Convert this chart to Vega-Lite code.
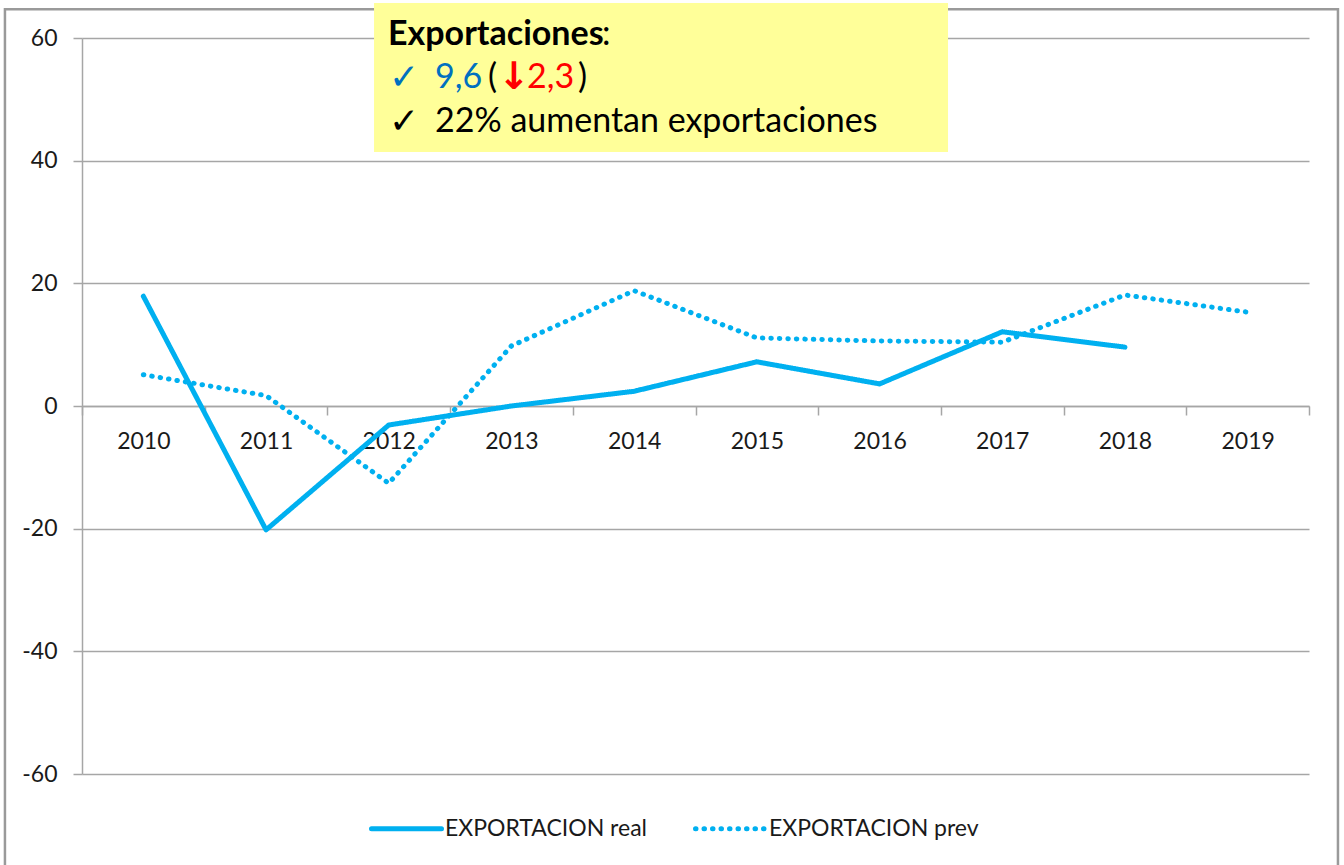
{
  "$schema": "https://vega.github.io/schema/vega-lite/v6.json",
  "width": 1227,
  "height": 736,
  "padding": {"left": 82, "top": 38, "right": 35, "bottom": 91},
  "autosize": {"type": "none"},
  "background": "white",
  "config": {"view": {"stroke": null}, "font": "Lato"},
  "resolve": {"scale": {"x": "independent"}},
  "layer": [
    {
      "data": {"values": [{}]},
      "mark": {"type": "rect", "fill": null, "stroke": "#9A9A9A", "strokeWidth": 2.5},
      "encoding": {
        "x": {"datum": -0.0628, "type": "quantitative", "scale": {"domain": [0, 1], "nice": false, "zero": false}, "axis": null},
        "x2": {"datum": 1.0236},
        "y": {"datum": 64.7, "type": "quantitative"},
        "y2": {"datum": -80}
      }
    },
    {
      "data": {
        "values": [
          {"year": "2010", "series": "EXPORTACION real", "value": 17.9},
          {"year": "2011", "series": "EXPORTACION real", "value": -20.2},
          {"year": "2012", "series": "EXPORTACION real", "value": -3.1},
          {"year": "2013", "series": "EXPORTACION real", "value": 0.0},
          {"year": "2014", "series": "EXPORTACION real", "value": 2.4},
          {"year": "2015", "series": "EXPORTACION real", "value": 7.2},
          {"year": "2016", "series": "EXPORTACION real", "value": 3.6},
          {"year": "2017", "series": "EXPORTACION real", "value": 12.1},
          {"year": "2018", "series": "EXPORTACION real", "value": 9.6},
          {"year": "2010", "series": "EXPORTACION prev", "value": 5.1},
          {"year": "2011", "series": "EXPORTACION prev", "value": 1.7},
          {"year": "2012", "series": "EXPORTACION prev", "value": -12.6},
          {"year": "2013", "series": "EXPORTACION prev", "value": 9.8},
          {"year": "2014", "series": "EXPORTACION prev", "value": 18.8},
          {"year": "2015", "series": "EXPORTACION prev", "value": 11.1},
          {"year": "2016", "series": "EXPORTACION prev", "value": 10.6},
          {"year": "2017", "series": "EXPORTACION prev", "value": 10.4},
          {"year": "2018", "series": "EXPORTACION prev", "value": 18.1},
          {"year": "2019", "series": "EXPORTACION prev", "value": 15.3}
        ]
      },
      "mark": {"type": "line", "strokeWidth": 5, "strokeCap": "round", "strokeJoin": "round"},
      "encoding": {
        "x": {
          "field": "year", "type": "ordinal",
          "scale": {"type": "band", "paddingInner": 0, "paddingOuter": 0},
          "axis": {
            "title": null, "orient": "bottom", "offset": -368, "labelAngle": 0,
            "tickBand": "extent", "tickSize": 9, "tickColor": "#A6A6A6", "tickWidth": 1.5,
            "domainColor": "#A6A6A6", "domainWidth": 1.5,
            "labelFont": "Lato", "labelFontSize": 23, "labelColor": "#1A1A1A",
            "labelBaseline": "middle", "labelPadding": 26, "grid": false
          }
        },
        "y": {
          "field": "value", "type": "quantitative",
          "scale": {"domain": [-60, 60], "nice": false, "zero": false},
          "axis": {
            "title": null, "values": [-60, -40, -20, 0, 20, 40, 60],
            "labelExpr": "'' + datum.value",
            "grid": true, "gridColor": "#A6A6A6", "gridWidth": 1.5,
            "domainColor": "#A6A6A6", "domainWidth": 1.5,
            "tickColor": "#A6A6A6", "tickWidth": 1.5, "tickSize": 9,
            "labelFont": "Lato", "labelFontSize": 23, "labelColor": "#1A1A1A", "labelPadding": 16
          }
        },
        "color": {
          "field": "series", "type": "nominal",
          "scale": {"domain": ["EXPORTACION real", "EXPORTACION prev"], "range": ["#00B0F0", "#00B0F0"]},
          "legend": {
            "title": null, "orient": "none", "legendX": 287, "legendY": 753, "direction": "horizontal",
            "symbolType": "stroke", "symbolSize": 4900, "symbolStrokeWidth": 5,
            "labelFont": "Lato", "labelFontSize": 23, "labelColor": "#1A1A1A", "labelOffset": 1,
            "labelLimit": 400, "columnPadding": 38,
            "encode": {"symbols": {"update": {"strokeCap": {"value": "round"}}}}
          }
        },
        "strokeDash": {
          "field": "series", "type": "nominal",
          "scale": {"domain": ["EXPORTACION real", "EXPORTACION prev"], "range": [[1, 0], [0.5, 8]]}
        }
      }
    },
    {
      "data": {"values": [{}]},
      "mark": {"type": "rect", "fill": "#FFFF99"},
      "encoding": {
        "x": {"datum": 0.238, "type": "quantitative", "scale": {"domain": [0, 1], "nice": false, "zero": false}, "axis": null},
        "x2": {"datum": 0.7058},
        "y": {"datum": 65.7, "type": "quantitative"},
        "y2": {"datum": 41.4}
      }
    },
    {
      "data": {"values": [{}]},
      "mark": {"type": "text", "text": "Exportaciones", "font": "Lato", "fontWeight": "bold", "fontSize": 34, "align": "left", "baseline": "middle", "color": "black"},
      "encoding": {
        "x": {"datum": 0.2494, "type": "quantitative", "scale": {"domain": [0, 1], "nice": false, "zero": false}, "axis": null},
        "y": {"datum": 60.5, "type": "quantitative"}
      }
    },
    {
      "data": {"values": [{}]},
      "mark": {"type": "text", "text": ":", "font": "Lato", "fontSize": 34, "align": "left", "baseline": "middle", "color": "black"},
      "encoding": {
        "x": {"datum": 0.4238, "type": "quantitative", "scale": {"domain": [0, 1], "nice": false, "zero": false}, "axis": null},
        "y": {"datum": 60.5, "type": "quantitative"}
      }
    },
    {
      "data": {"values": [{}]},
      "mark": {"type": "text", "text": "✓", "font": "DejaVu Sans", "fontSize": 36, "align": "left", "baseline": "middle", "color": "#0070C0"},
      "encoding": {
        "x": {"datum": 0.2502, "type": "quantitative", "scale": {"domain": [0, 1], "nice": false, "zero": false}, "axis": null},
        "y": {"datum": 53.5, "type": "quantitative"}
      }
    },
    {
      "data": {"values": [{}]},
      "mark": {"type": "text", "text": "9,6", "font": "Lato", "fontSize": 34, "align": "left", "baseline": "middle", "color": "#0070C0"},
      "encoding": {
        "x": {"datum": 0.2877, "type": "quantitative", "scale": {"domain": [0, 1], "nice": false, "zero": false}, "axis": null},
        "y": {"datum": 53.5, "type": "quantitative"}
      }
    },
    {
      "data": {"values": [{}]},
      "mark": {"type": "text", "text": "(", "font": "Lato", "fontSize": 34, "align": "left", "baseline": "middle", "color": "black"},
      "encoding": {
        "x": {"datum": 0.3309, "type": "quantitative", "scale": {"domain": [0, 1], "nice": false, "zero": false}, "axis": null},
        "y": {"datum": 53.5, "type": "quantitative"}
      }
    },
    {
      "data": {"values": [{}]},
      "mark": {"type": "text", "text": "↓", "font": "DejaVu Sans", "fontWeight": "bold", "fontSize": 38, "align": "left", "baseline": "middle", "color": "#FF0000"},
      "encoding": {
        "x": {"datum": 0.3390, "type": "quantitative", "scale": {"domain": [0, 1], "nice": false, "zero": false}, "axis": null},
        "y": {"datum": 53.5, "type": "quantitative"}
      }
    },
    {
      "data": {"values": [{}]},
      "mark": {"type": "text", "text": "2,3", "font": "Lato", "fontSize": 34, "align": "left", "baseline": "middle", "color": "#FF0000"},
      "encoding": {
        "x": {"datum": 0.3627, "type": "quantitative", "scale": {"domain": [0, 1], "nice": false, "zero": false}, "axis": null},
        "y": {"datum": 53.5, "type": "quantitative"}
      }
    },
    {
      "data": {"values": [{}]},
      "mark": {"type": "text", "text": ")", "font": "Lato", "fontSize": 34, "align": "left", "baseline": "middle", "color": "black"},
      "encoding": {
        "x": {"datum": 0.4043, "type": "quantitative", "scale": {"domain": [0, 1], "nice": false, "zero": false}, "axis": null},
        "y": {"datum": 53.5, "type": "quantitative"}
      }
    },
    {
      "data": {"values": [{}]},
      "mark": {"type": "text", "text": "✓", "font": "DejaVu Sans", "fontSize": 36, "align": "left", "baseline": "middle", "color": "black"},
      "encoding": {
        "x": {"datum": 0.2502, "type": "quantitative", "scale": {"domain": [0, 1], "nice": false, "zero": false}, "axis": null},
        "y": {"datum": 46.3, "type": "quantitative"}
      }
    },
    {
      "data": {"values": [{}]},
      "mark": {"type": "text", "text": "22% aumentan exportaciones", "font": "Lato", "fontSize": 34, "align": "left", "baseline": "middle", "color": "black"},
      "encoding": {
        "x": {"datum": 0.2877, "type": "quantitative", "scale": {"domain": [0, 1], "nice": false, "zero": false}, "axis": null},
        "y": {"datum": 46.3, "type": "quantitative"}
      }
    }
  ]
}
